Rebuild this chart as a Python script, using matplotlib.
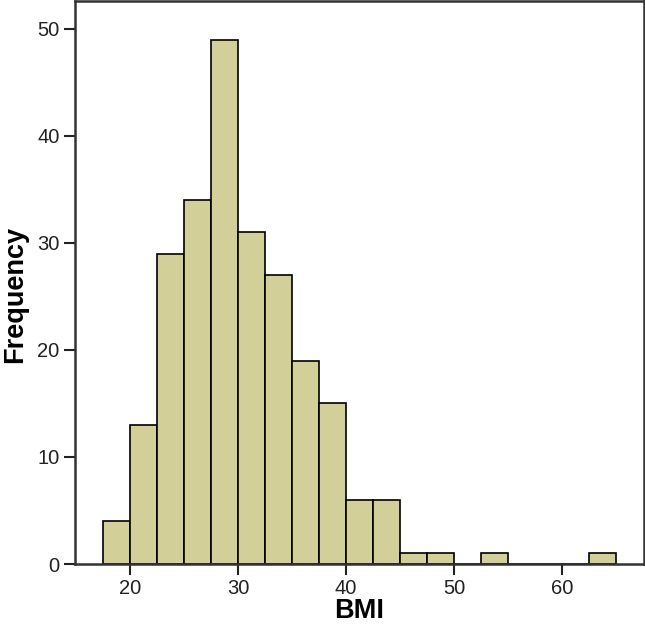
import matplotlib
matplotlib.use("Agg")
import matplotlib.pyplot as plt
import numpy as np

plt.rcParams['font.family'] = ['Liberation Sans', 'DejaVu Sans']

bin_edges = [17.5, 20, 22.5, 25, 27.5, 30, 32.5, 35, 37.5, 40, 42.5, 45,
             47.5, 50, 52.5, 55, 57.5, 60, 62.5, 65]
counts = [4, 13, 29, 34, 49, 31, 27, 19, 15, 6, 6, 1, 1, 0, 1, 0, 0, 0, 1]
x_ticks = [20, 30, 40, 50, 60]
y_ticks = [0, 10, 20, 30, 40, 50]

fig = plt.figure(figsize=(6.45, 6.25), dpi=100)
ax = fig.add_axes([75/645, 61/625, 569/645, 563/625])

lefts = np.array(bin_edges[:-1])
widths = np.diff(bin_edges)
ax.bar(lefts, counts, width=widths, align='edge', color='#D3CF98',
       edgecolor='black', linewidth=1.2)

ax.set_xlim(14.9, 67.6)
ax.set_ylim(0, 52.6)
ax.set_xticks(x_ticks)
ax.set_yticks(y_ticks)
ax.tick_params(axis='both', direction='out', length=8, width=1.5,
               labelsize=14.5, colors='#222222', pad=3)
for s in ax.spines.values():
    s.set_linewidth(1.8)
    s.set_color('#333333')
ax.set_xlabel('BMI', fontsize=19.5, fontweight='bold', labelpad=0)
ax.set_ylabel('Frequency', fontsize=19.5, fontweight='bold')
ax.yaxis.set_label_coords(-0.083, 0.478)

fig.savefig('out.png', dpi=100)
